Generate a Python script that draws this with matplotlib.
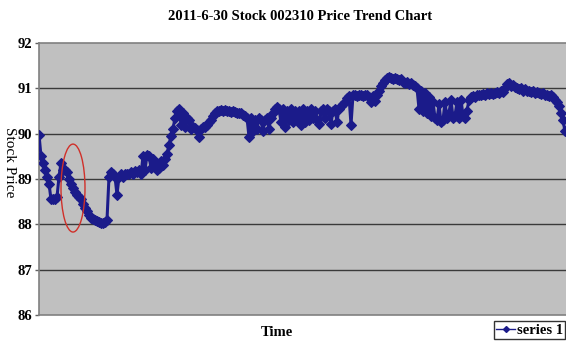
import matplotlib
matplotlib.use("Agg")
import matplotlib.pyplot as plt
from matplotlib.patches import Ellipse
from matplotlib.lines import Line2D

# Intraday price of stock 002310 on 2011-06-30, one sample per tick
prices = [
    89.98, 89.5, 89.35, 89.2, 89.05,
    88.9, 88.55, 88.55, 88.55, 88.6,
    89.05, 89.35, 89.2, 89.2, 89.15,
    89.0, 88.9, 88.8, 88.72, 88.65,
    88.6, 88.55, 88.45, 88.35, 88.3,
    88.2, 88.15, 88.12, 88.1, 88.08,
    88.05, 88.03, 88.02, 88.05, 88.1,
    89.05, 89.15, 89.1, 89.05, 88.65,
    89.05, 89.1, 89.05, 89.1, 89.12,
    89.1, 89.15, 89.12, 89.18, 89.15,
    89.2, 89.1, 89.5, 89.2, 89.52,
    89.5, 89.25, 89.45, 89.3, 89.2,
    89.25, 89.4, 89.3, 89.45, 89.55,
    89.75, 89.95, 90.1, 90.35, 90.5,
    90.55, 90.2, 90.45, 90.15, 90.35,
    90.3, 90.1, 90.15, 90.12, 90.08,
    89.93, 90.1, 90.15, 90.15, 90.2,
    90.25, 90.3, 90.38, 90.45, 90.5,
    90.5, 90.52, 90.5, 90.52, 90.5,
    90.5, 90.48, 90.5, 90.48, 90.45,
    90.45, 90.45, 90.42, 90.4, 90.35,
    89.93, 90.35, 90.05, 90.3, 90.1,
    90.35, 90.3, 90.05, 90.3, 90.35,
    90.1, 90.35, 90.45, 90.55, 90.58,
    90.55, 90.25, 90.55, 90.15, 90.5,
    90.3, 90.55, 90.25, 90.5, 90.3,
    90.5, 90.2, 90.55, 90.25, 90.5,
    90.3, 90.55, 90.35, 90.5, 90.3,
    90.22, 90.5, 90.55, 90.35, 90.55,
    90.5, 90.22, 90.5, 90.55, 90.25,
    90.55, 90.6, 90.65, 90.7, 90.78,
    90.82, 90.2, 90.85, 90.85, 90.82,
    90.85, 90.85, 90.82, 90.85, 90.85,
    90.8, 90.7, 90.82, 90.72, 90.85,
    90.95, 91.05, 91.12, 91.18, 91.22,
    91.25, 91.22, 91.2, 91.22, 91.2,
    91.18, 91.2, 91.15, 91.12, 91.15,
    91.1, 91.12, 91.08, 91.05, 91.0,
    90.55, 90.95, 90.5, 90.9, 90.45,
    90.8, 90.4, 90.7, 90.35, 90.3,
    90.65, 90.25, 90.3, 90.7, 90.35,
    90.45, 90.75, 90.35, 90.4, 90.7,
    90.35, 90.75, 90.4, 90.35, 90.5,
    90.75, 90.8, 90.82, 90.8, 90.85,
    90.85, 90.85, 90.88, 90.85, 90.9,
    90.88, 90.9, 90.88, 90.9, 90.92,
    90.9, 90.95, 90.92, 91.0, 91.1,
    91.12, 91.05, 91.08, 91.02, 91.0,
    90.98, 91.0, 90.95, 90.98, 90.95,
    90.95, 90.92, 90.95, 90.9, 90.92,
    90.9, 90.88, 90.9, 90.85, 90.85,
    90.82, 90.85, 90.8, 90.75, 90.7,
    90.6, 90.45, 90.3, 90.05,
]
ticks = list(range(len(prices)))
y_ticks = [86, 87, 88, 89, 90, 91, 92]

title = "2011-6-30 Stock 002310 Price Trend Chart"
series_name = "series 1"

serif = ["Liberation Serif", "DejaVu Serif"]
line_color = "#1b1b8a"

fig = plt.figure(figsize=(5.66, 3.43), dpi=100)
fig.patch.set_facecolor("white")
ax = fig.add_axes([39 / 566, 28 / 343, 527 / 566, 272 / 343])
ax.set_facecolor("#c0c0c0")

ax.plot(ticks, prices, color=line_color, linewidth=2.2, marker="D",
        markersize=4.6, markeredgewidth=0.8, markerfacecolor=line_color,
        markeredgecolor=line_color, zorder=3)

ax.set_xlim(0, len(prices) - 0.5)
ax.set_ylim(86, 92)
ax.set_yticks(y_ticks)
ax.set_xticks([])
for v in y_ticks[1:-1]:
    ax.axhline(v, color="#3a3a3a", linewidth=1.0, zorder=1)

for side in ["left", "bottom", "top"]:
    ax.spines[side].set_color("#808080")
    ax.spines[side].set_linewidth(1.2)
ax.spines["right"].set_visible(False)
ax.tick_params(axis="y", length=3, width=1, color="#606060", pad=2)
for lbl in ax.get_yticklabels():
    lbl.set_fontfamily(serif)
    lbl.set_fontweight("bold")
    lbl.set_fontsize(10.5)

# highlight the early dip
ax.add_patch(Ellipse((17, 88.8), 12, 1.94, fill=False, edgecolor="#d0302a",
                     linewidth=1.0, zorder=4))

fig.text(300 / 566, 1 - 17 / 343, title, ha="center", va="center",
         family=serif, fontweight="bold", fontsize=10.5)
fig.text(9 / 566, 1 - 162 / 343, "Stock Price", ha="center", va="center",
         rotation=-90, family=serif, fontsize=11)
fig.text(277 / 566, 1 - 333 / 343, "Time", ha="center", va="center",
         family=serif, fontweight="bold", fontsize=10.5)

handle = Line2D([], [], color=line_color, linewidth=1.0, marker="D",
                markersize=3, markerfacecolor=line_color)
leg = fig.legend([handle], [series_name], loc="lower left",
                 bbox_to_anchor=(494 / 566, 4 / 343), frameon=True,
                 fancybox=False, borderpad=0.15, handlelength=1.3,
                 handletextpad=0.1, borderaxespad=0,
                 prop={"family": serif, "weight": "bold", "size": 10.5})
leg.get_frame().set_edgecolor("black")
leg.get_frame().set_linewidth(1.0)

fig.savefig("out.png", dpi=100)
